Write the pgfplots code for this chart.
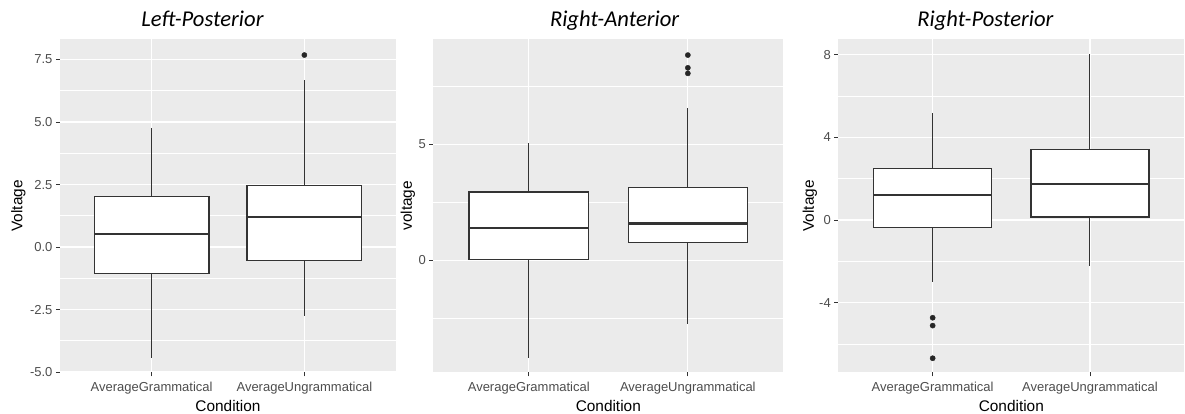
\documentclass[border=0pt]{standalone}
\usepackage{pgfplots}
\pgfplotsset{compat=1.18}
\usepgfplotslibrary{statistics}
\usepackage{fontspec}
\setmainfont{Liberation Sans}
\newfontfamily\titlefont{Carlito}
\definecolor{ggbg}{HTML}{EBEBEB}
\definecolor{ggdark}{HTML}{333333}
\definecolor{ggtick}{HTML}{4D4D4D}
\pgfplotsset{
  ggbox/.style={
    scale only axis, height=333pt,
    axis background/.style={fill=ggbg},
    axis lines*=left,
    axis line style={draw=none},
    xmin=0.4, xmax=2.6,
    xtick={1,2}, xticklabels={AverageGrammatical,AverageUngrammatical},
    xmajorgrids, ymajorgrids, yminorgrids,
    major grid style={white, line width=1.2pt},
    minor grid style={white, line width=0.6pt},
    tick align=outside,
    major tick length=4pt, minor tick length=0pt,
    major tick style={ggdark, line width=0.8pt},
    tick label style={font=\fontsize{13}{15}\selectfont, text=ggtick},
    xticklabel shift=2pt,
    xlabel=Condition,
    xlabel style={font=\fontsize{15.4}{17}\selectfont, at={(axis description cs:0.5,-0.101)}, anchor=center},
    ylabel style={font=\fontsize{15.4}{17}\selectfont, anchor=center},
    every axis title shift=0pt,
    title style={font=\titlefont\itshape\fontsize{22.6}{26}\selectfont},
    boxplot/draw direction=y,
    boxplot/every box/.style={draw=ggdark, fill=white, line width=1.3pt},
    boxplot/every whisker/.style={draw=ggdark, line width=1.0pt},
    boxplot/every median/.style={draw=ggdark, line width=2.4pt},
    boxplot/whisker extend=0,
    boxplot/box extend=0.75,
  },
  ggplotstyle/.style={ggdark, solid, mark=*, mark size=2.6pt, mark options={fill=black!85, draw=black!85}},
}
\begin{document}
\begin{tikzpicture}
\path[use as bounding box] (0pt,0pt) rectangle (1185pt,414pt);
% Panel 1
\begin{axis}[ggbox, at={(60pt,41.7pt)}, anchor=south west, width=336pt,
  ymin=-5.01, ymax=8.31,
  ytick={-5,-2.5,0,2.5,5,7.5}, yticklabels={-5.0,-2.5,0.0,2.5,5.0,7.5},
  minor ytick={-3.75,-1.25,1.25,3.75,6.25},
  ylabel=Voltage, ylabel style={at={(axis description cs:-0.124,0.5)}},
  title={Left-Posterior}, title style={at={(axis description cs:0.424,1.038)}, anchor=base}]
\addplot[ggplotstyle, boxplot prepared={draw position=1, median=0.51, upper quartile=2.01, lower quartile=-1.05, upper whisker=4.77, lower whisker=-4.45}] coordinates {};
\addplot[ggplotstyle, boxplot prepared={draw position=2, median=1.20, upper quartile=2.47, lower quartile=-0.55, upper whisker=6.68, lower whisker=-2.76}] table[row sep=\\, y index=0] {y\\ 7.68\\};
\end{axis}
% Panel 2
\begin{axis}[ggbox, at={(433.3pt,41.7pt)}, anchor=south west, width=350pt,
  ymin=-4.83, ymax=9.53,
  ytick={0,5}, yticklabels={0,5},
  minor ytick={-2.5,2.5,7.5},
  ylabel=voltage, ylabel style={at={(axis description cs:-0.0723,0.5)}},
  title={Right-Anterior}, title style={at={(axis description cs:0.518,1.038)}, anchor=base}]
\addplot[ggplotstyle, boxplot prepared={draw position=1, median=1.39, upper quartile=2.94, lower quartile=0.04, upper whisker=5.04, lower whisker=-4.22}] coordinates {};
\addplot[ggplotstyle, boxplot prepared={draw position=2, median=1.59, upper quartile=3.13, lower quartile=0.78, upper whisker=6.58, lower whisker=-2.75}] table[row sep=\\, y index=0] {y\\ 8.85\\ 8.30\\ 8.06\\};
\end{axis}
% Panel 3
\begin{axis}[ggbox, at={(838.3pt,41.7pt)}, anchor=south west, width=346pt,
  ymin=-7.37, ymax=8.74,
  ytick={-4,0,4,8}, yticklabels={-4,0,4,8},
  minor ytick={-6,-2,2,6},
  ylabel=Voltage, ylabel style={at={(axis description cs:-0.0818,0.5)}},
  title={Right-Posterior}, title style={at={(axis description cs:0.425,1.038)}, anchor=base}]
\addplot[ggplotstyle, boxplot prepared={draw position=1, median=1.21, upper quartile=2.48, lower quartile=-0.37, upper whisker=5.16, lower whisker=-2.98}] table[row sep=\\, y index=0] {y\\ -4.73\\ -5.11\\ -6.69\\};
\addplot[ggplotstyle, boxplot prepared={draw position=2, median=1.74, upper quartile=3.40, lower quartile=0.15, upper whisker=8.03, lower whisker=-2.21}] coordinates {};
\end{axis}
\end{tikzpicture}
\end{document}
